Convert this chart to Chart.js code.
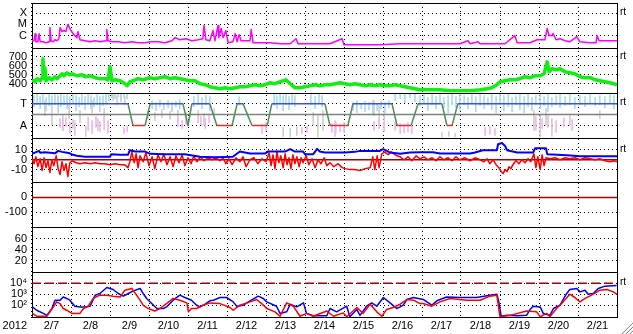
<!DOCTYPE html>
<html>
<head>
<meta charset="utf-8">
<title>Space weather 2012</title>
<style>
  html, body { margin: 0; padding: 0; background: #fff; }
  #wrap { position: relative; width: 633px; height: 334px; }
</style>
<script src="https://cdn.jsdelivr.net/npm/chart.js@4/dist/chart.umd.min.js"></script>
</head>
<body>
<div id="wrap"><canvas id="chart" width="633" height="334"></canvas></div>
<script>
const FONT = "'Liberation Sans', Arial, sans-serif";

// x axis: days since 2/7 00:00
const dayTicks = [0, 1, 2, 3, 4, 5, 6, 7, 8, 9, 10, 11, 12, 13, 14, 15];
const dayLabels = ['2/7', '2/8', '2/9', '2/10', '2/11', '2/12', '2/13', '2/14', '2/15', '2/16', '2/17', '2/18', '2/19', '2/20', '2/21', ''];
const yearLabel = '2012';
const rtLabel = 'rt';

// X-ray flux [day, flux in 1e-6 W/m2] (C = 1, M = 10, X = 100)
const xrayPts = [[0.00,0.35],[0.05,0.35],[0.08,1.5],[0.10,0.28],[0.15,0.28],[0.18,1.5],[0.21,0.28],[0.28,0.28],[0.36,0.23],[0.44,0.28],
  [0.46,5.3],[0.49,0.35],[0.54,0.28],[0.59,0.43],[0.64,0.35],[0.69,0.53],[0.72,5.3],[0.77,2.3],[0.82,2.85],[0.87,2.3],
  [0.92,10],[0.97,4.3],[1.05,1.5],[1.15,0.66],[1.18,2.3],[1.23,0.43],[1.36,0.35],[1.49,0.28],[1.62,0.35],[1.74,0.28],
  [1.90,0.35],[1.92,3.5],[1.95,0.35],[2.05,0.28],[2.21,0.28],[2.38,0.23],[2.56,0.28],[2.72,0.23],[2.90,0.23],[3.03,0.28],
  [3.23,0.28],[3.41,0.23],[3.59,0.35],[3.67,0.66],[3.79,0.43],[3.95,0.53],[4.10,0.35],[4.26,0.43],[4.38,0.53],[4.41,8.1],
  [4.46,0.43],[4.56,0.35],[4.64,2.85],[4.69,0.35],[4.77,8.1],[4.79,0.66],[4.85,4.3],[4.90,0.66],[4.97,2.85],[5.03,0.23],
  [5.15,0.28],[5.21,1.5],[5.26,0.28],[5.31,1.23],[5.36,0.35],[5.46,0.35],[5.59,0.35],[5.62,3.5],[5.67,0.23],[5.85,0.23],
  [6.10,0.23],[6.36,0.19],[6.62,0.19],[6.77,0.53],[6.82,0.19],[7.13,0.19],[7.38,0.19],[7.64,0.19],[7.95,0.53],[8.00,0.15],
  [8.41,0.15],[8.92,0.15],[9.44,0.19],[9.95,0.19],[10.46,0.19],[10.97,0.19],[11.18,0.35],[11.23,0.19],[11.44,0.28],[11.49,0.19],
  [11.74,0.19],[12.13,0.19],[12.38,1.0],[12.44,0.23],[12.77,0.23],[12.95,0.43],[13.15,0.43],[13.21,4.3],[13.26,1.0],[13.33,1.0],
  [13.36,1.5],[13.44,0.43],[13.54,0.53],[13.67,0.35],[13.79,0.28],[13.97,0.81],[14.05,0.28],[14.31,0.23],[14.46,0.23],[14.49,1.0],
  [14.54,0.35],[14.69,0.35],[14.82,0.35],[15.00,0.35]];

// solar wind speed [day, km/s]
const windPts = [[0.00,444],[0.08,422],[0.13,456],[0.21,433],[0.26,467],[0.28,678],[0.31,456],[0.33,578],[0.36,433],[0.44,467],
  [0.51,444],[0.59,478],[0.64,456],[0.72,489],[0.77,511],[0.82,489],[0.90,522],[0.97,500],[1.03,511],[1.15,489],
  [1.28,500],[1.36,478],[1.49,489],[1.62,467],[1.74,456],[1.87,456],[1.95,444],[2.00,589],[2.05,433],[2.13,444],
  [2.26,433],[2.38,400],[2.44,378],[2.51,422],[2.59,433],[2.72,456],[2.85,444],[3.03,467],[3.15,456],[3.28,467],
  [3.41,478],[3.54,456],[3.67,467],[3.79,456],[3.92,444],[4.05,433],[4.18,433],[4.31,400],[4.44,389],[4.56,367],
  [4.69,356],[4.82,344],[4.95,356],[5.08,344],[5.21,356],[5.33,367],[5.46,367],[5.59,378],[5.72,389],[5.85,378],
  [5.97,389],[6.10,411],[6.23,400],[6.36,422],[6.51,444],[6.62,400],[6.74,356],[6.87,356],[7.00,367],[7.13,378],
  [7.26,389],[7.38,378],[7.51,389],[7.64,389],[7.77,400],[7.90,411],[8.03,400],[8.15,389],[8.28,400],[8.41,389],
  [8.54,378],[8.67,389],[8.79,378],[8.92,389],[9.05,378],[9.18,378],[9.31,389],[9.44,378],[9.56,367],[9.69,356],
  [9.82,344],[9.95,333],[10.21,333],[10.46,333],[10.72,322],[10.97,322],[11.23,322],[11.49,333],[11.67,344],[11.79,356],
  [11.92,389],[12.00,422],[12.13,433],[12.26,444],[12.38,444],[12.51,456],[12.64,478],[12.77,467],[12.90,489],[13.03,489],
  [13.13,511],[13.21,644],[13.26,533],[13.33,567],[13.44,556],[13.54,567],[13.67,533],[13.79,522],[13.92,511],[14.05,478],
  [14.18,467],[14.31,467],[14.44,444],[14.56,433],[14.69,422],[14.82,411],[14.92,400],[15.00,389]];

// status level [day, level]  (2 = T, 0 = A)
const statusPts = [[0.00,2],[2.46,2],[2.59,0],[2.90,0],[3.03,2],[3.87,2],[4.00,0],[4.10,2],[4.56,2],[4.74,0],
  [5.13,0],[5.26,2],[5.41,2],[5.64,0],[6.03,0],[6.15,2],[7.51,2],[7.64,0],[8.10,0],[8.23,2],
  [9.23,2],[9.36,0],[9.72,0],[9.90,2],[10.51,2],[10.64,0],[10.77,0],[10.92,2],[15.00,2]];
const statusMid = 1;

// background streaks [day, low, high] in level units
const blueStreaks = [[0.05,1.73,2.73],[0.13,1.91,2.91],[0.21,1.55,2.64],[0.28,2.00,2.82],[0.36,1.36,2.55],[0.44,1.82,2.91],
  [0.51,1.64,2.73],[0.59,1.91,2.82],[0.67,1.18,2.64],[0.74,1.73,2.91],[0.82,1.91,2.73],[0.90,1.55,2.82],[0.97,1.82,2.64],
  [1.05,2.00,2.91],[1.13,1.36,2.73],[1.21,1.73,2.55],[1.28,1.91,2.82],[1.36,1.45,2.64],[1.44,2.00,2.91],[1.51,1.55,2.73],
  [1.59,1.73,2.55],[1.67,1.91,2.82],[1.74,1.27,2.64],[1.82,1.82,2.73],[1.90,2.00,2.91],[1.97,2.27,2.82],[2.05,2.55,3.00],
  [2.13,2.45,2.91],[2.21,2.64,3.00],[2.28,2.36,2.91],[2.36,2.55,3.00],[2.44,2.45,2.91],[3.08,1.55,2.27],[3.18,1.36,2.09],
  [3.28,1.73,2.36],[3.38,1.45,2.00],[3.49,1.64,2.27],[3.59,1.27,2.09],[3.69,1.73,2.18],[3.79,1.55,2.36],[4.15,1.73,2.64],
  [4.26,1.91,2.82],[4.36,1.55,2.55],[4.46,1.91,2.73],[4.56,1.36,2.64],[5.31,1.91,2.64],[6.21,1.82,2.82],[6.28,1.55,2.73],
  [6.36,2.00,2.91],[6.44,1.36,2.73],[6.51,1.91,2.82],[6.59,1.45,2.64],[6.67,2.00,2.91],[6.74,1.73,2.73],[7.15,1.91,2.82],
  [7.26,1.55,2.64],[7.36,2.00,2.91],[7.44,1.73,2.73],[8.23,1.36,2.09],[8.33,1.18,2.27],[8.44,1.55,2.00],[8.54,1.27,2.18],
  [8.64,1.45,2.09],[8.74,1.09,2.27],[8.85,1.36,2.00],[8.95,1.55,2.18],[9.05,1.18,2.09],[9.15,1.64,2.27],[9.31,2.27,2.91],
  [9.44,2.45,3.00],[9.56,2.09,2.82],[9.69,2.55,3.00],[9.82,2.18,2.91],[9.95,1.82,2.73],[10.05,2.00,2.82],[10.15,1.36,2.55],
  [10.26,1.91,2.91],[10.36,1.55,2.64],[10.46,2.00,2.82],[10.56,1.64,2.55],[10.67,1.18,2.73],[10.77,1.91,2.91],[10.87,1.64,2.64],
  [10.97,1.36,2.82],[11.08,1.91,2.73],[11.18,1.55,2.55],[11.28,2.00,2.82],[11.38,1.27,2.64],[11.49,1.82,2.91],[11.59,1.55,2.73],
  [11.69,1.91,2.55],[11.79,1.45,2.82],[11.90,1.18,2.64],[12.00,1.91,2.91],[12.10,1.36,2.73],[12.21,1.73,2.82],[12.31,1.27,2.55],
  [12.41,1.91,2.73],[12.51,1.45,2.91],[12.62,1.18,2.64],[12.72,1.73,2.82],[12.82,1.36,2.55],[12.92,1.91,2.73],[13.03,1.55,2.91],
  [13.13,1.82,2.64],[13.23,1.27,2.82],[13.33,1.73,2.55],[13.44,1.91,2.73],[13.54,1.64,2.91],[13.67,1.82,2.64],[13.79,1.91,2.82],
  [13.92,1.55,2.55],[14.05,1.91,2.73],[14.18,1.73,2.64],[14.31,2.00,2.82],[14.44,1.82,2.55],[14.56,1.91,2.73],[14.69,1.64,2.64],
  [14.82,2.00,2.82],[14.92,1.55,2.73]];
const grayStreaks = [[0.33,0.91,2.27],[0.51,0.00,1.55],[0.67,2.09,2.73],[0.79,-0.45,0.91],[0.95,0.64,1.91],[1.10,-0.91,0.45],
  [1.23,0.27,1.36],[1.38,-1.00,0.00],[1.54,1.18,2.27],[1.69,-0.45,0.64],[1.85,0.45,1.55],[2.08,2.27,2.91],[2.18,1.91,2.73],
  [2.28,2.18,2.82],[2.38,1.91,2.64],[2.97,0.64,1.36],[3.15,0.45,1.18],[3.33,0.73,1.45],[3.54,0.55,1.27],[3.74,0.45,1.36],
  [3.95,0.64,1.18],[4.26,0.27,1.36],[4.41,0.00,1.09],[4.67,0.64,1.55],[6.44,-1.00,-0.18],[6.62,-1.09,-0.27],[6.79,-0.91,-0.09],
  [7.21,0.00,1.18],[7.33,-1.09,0.91],[7.46,-0.45,1.36],[7.77,-1.00,0.45],[8.77,0.91,2.27],[8.90,0.00,1.82],[9.03,-0.18,1.36],
  [10.51,-1.09,-0.64],[10.69,-1.00,-0.55],[10.85,-1.09,-0.73],[12.87,-0.45,1.36],[13.03,-1.09,0.91],[13.18,0.00,1.55],
  [13.33,-1.00,0.64],[13.79,0.00,0.91],[14.56,0.64,1.36]];
const pinkStreaks = [[0.72,-0.18,0.64],[0.79,-0.45,0.45],[0.87,-0.09,0.73],[0.97,-0.73,0.27],[1.05,-0.27,0.55],[1.44,-0.45,0.73],
  [1.54,-0.73,0.45],[1.64,-0.18,0.82],[1.74,-0.55,0.36],[1.85,-0.36,0.64],[1.95,-0.73,0.45],[2.36,-0.73,-0.18],[2.44,-0.55,0.00],
  [3.74,-0.09,0.64],[3.85,-0.27,0.45],[3.95,0.00,0.73],[4.33,0.09,0.82],[4.44,-0.27,0.64],[4.54,0.27,0.91],[5.90,-0.73,0.09],
  [6.00,-0.45,0.27],[6.92,-0.73,-0.18],[7.05,-0.64,-0.09],[7.69,-0.64,0.18],[7.79,-0.73,0.36],[7.90,-0.55,0.09],[8.00,-0.64,0.27],
  [8.77,-0.45,0.36],[8.90,-0.27,0.55],[9.03,-0.55,0.27],[9.31,-0.45,0.27],[9.44,-0.73,0.18],[9.54,-0.64,0.09],[9.64,-0.55,0.27],
  [9.74,-0.73,0.00],[11.62,-0.91,-0.18],[11.74,-0.82,-0.09],[11.87,-0.91,-0.27],[12.92,-0.45,0.82],[13.08,-0.27,0.64],
  [13.23,-0.18,0.91],[13.44,-0.64,0.45],[13.64,-0.09,0.73],[13.85,-0.45,0.55]];

// magnetic field [day, nT]
const btPts = [[0.00,6],[0.18,9],[0.21,7],[0.33,7.5],[0.46,7],[0.59,6.5],[0.67,9],[0.77,8],[0.90,7],[0.97,6.5],
  [1.05,5],[1.15,4],[1.36,3],[1.62,3],[1.87,3],[2.00,3],[2.03,5.7],[2.26,5],[2.46,5],[2.51,9.7],
  [2.64,8.3],[2.90,8.3],[3.03,6],[3.41,5.7],[3.92,5.5],[4.31,3],[4.69,2.5],[5.15,3],[5.33,8.3],[5.59,6.3],
  [5.97,6.3],[6.05,8.3],[6.49,8.3],[6.62,10.7],[6.74,8.3],[6.95,8.3],[7.00,5.7],[7.21,5.7],[7.26,8.3],[7.31,11],
  [7.38,8.3],[7.51,7.3],[8.03,7.3],[8.28,8],[8.41,9],[8.92,9],[9.00,10.7],[9.10,9],[9.18,7.3],[9.44,6],
  [9.69,7.3],[9.95,7.5],[10.28,7.5],[10.46,6.3],[11.23,6.3],[11.36,7.3],[11.56,9.7],[11.92,9.7],[11.95,15.7],[12.05,17],
  [12.13,14],[12.18,9.7],[12.44,7.3],[12.85,7.3],[12.90,11.7],[13.18,11.7],[13.21,5.7],[13.72,4.5],[14.05,3.5],[14.56,3.5],[15.00,3.5]];
const bzPts = [[0.00,1],[0.05,-4],[0.10,3],[0.15,-7],[0.21,1],[0.26,-11],[0.31,2],[0.36,-8],[0.41,-1],[0.46,-13],
  [0.51,0],[0.56,-6],[0.62,4],[0.67,-9],[0.72,-15],[0.77,-2],[0.82,-11],[0.87,-4],[0.92,-17],[0.97,-3],
  [1.03,-1],[1.13,-3],[1.23,-4],[1.36,-3],[1.49,-4],[1.62,-3],[1.74,-4],[1.87,-4],[2.00,-5],[2.13,-4],
  [2.26,-5],[2.38,-5],[2.46,-8],[2.51,-2],[2.56,8],[2.62,-3],[2.67,6],[2.72,-8],[2.77,4],[2.85,-2],
  [2.92,7],[3.00,-6],[3.08,3],[3.15,-9],[3.23,5],[3.31,-2],[3.38,6],[3.46,-5],[3.54,3],[3.62,-7],
  [3.69,4],[3.77,-3],[3.85,5],[3.92,-6],[4.00,2],[4.08,-4],[4.15,4],[4.23,-2],[4.31,3],[4.41,-1],
  [4.51,2],[4.62,0],[4.72,2],[4.82,-1],[4.90,2],[4.97,-4],[5.05,1],[5.13,-5],[5.23,2],[5.33,-2],
  [5.41,3],[5.49,-7],[5.59,0],[5.69,2],[5.79,-4],[5.90,1],[6.00,-2],[6.08,7],[6.13,-6],[6.18,5],
  [6.23,-9],[6.28,8],[6.33,-3],[6.38,4],[6.44,-8],[6.49,6],[6.54,-5],[6.59,2],[6.64,-9],[6.69,5],
  [6.74,-4],[6.79,3],[6.85,-7],[6.90,2],[6.95,-3],[7.03,4],[7.10,-5],[7.18,1],[7.26,-8],[7.33,0],
  [7.41,-4],[7.49,2],[7.56,-6],[7.64,-3],[7.74,-7],[7.85,-4],[7.95,-8],[8.03,-9],[8.15,-10],[8.28,-10],
  [8.41,-11],[8.54,-9],[8.67,-8],[8.74,3],[8.79,-10],[8.85,4],[8.90,-8],[8.97,6],[9.05,8],[9.13,5],
  [9.21,8],[9.28,6],[9.36,4],[9.44,3],[9.54,0],[9.64,3],[9.74,-1],[9.85,4],[9.95,1],[10.05,3],
  [10.15,0],[10.26,2],[10.36,-1],[10.46,3],[10.56,0],[10.67,2],[10.77,-1],[10.87,3],[10.97,0],[11.10,2],
  [11.23,-1],[11.36,2],[11.49,0],[11.59,-2],[11.67,1],[11.74,-4],[11.82,0],[11.90,-5],[11.97,-8],[12.03,-12],
  [12.08,-14],[12.13,-10],[12.18,-12],[12.23,-7],[12.28,-9],[12.33,-5],[12.41,-1],[12.49,-4],[12.56,0],[12.64,-3],
  [12.72,1],[12.79,-2],[12.87,6],[12.92,-8],[12.97,3],[13.03,-10],[13.08,5],[13.13,-6],[13.18,2],[13.28,1],
  [13.41,2],[13.54,0],[13.67,2],[13.79,1],[13.92,2],[14.05,0],[14.18,2],[14.31,1],[14.44,0],[14.56,1],
  [14.69,-1],[14.82,-2],[14.92,-1],[15.00,-2]];
const imfZero = 0;
const dstZero = 0;

// particle flux [day, flux]
const fluxBluePts = [[0.01,70],[0.12,35],[0.29,18],[0.38,12],[0.51,50],[0.59,285],[0.72,285],[0.80,560],[0.89,410],[0.97,285],
  [1.10,81],[1.23,70],[1.36,70],[1.49,81],[1.62,811],[1.74,1160],[1.92,4050],[2.08,2650],[2.21,1160],[2.34,660],
  [2.47,1160],[2.60,2000],[2.77,3300],[2.85,1160],[2.94,410],[3.07,140],[3.20,50],[3.37,50],[3.45,70],[3.62,285],
  [3.79,811],[3.92,500],[4.09,285],[4.22,100],[4.31,70],[4.44,123],[4.56,250],[4.65,285],[4.82,500],[4.99,500],
  [5.16,200],[5.25,81],[5.42,100],[5.59,250],[5.80,660],[5.93,410],[6.02,200],[6.27,81],[6.36,18],[6.53,25],
  [6.62,123],[6.79,70],[6.96,162],[7.04,18],[7.21,11],[7.56,11],[7.64,50],[7.81,25],[8.07,81],[8.15,9],
  [8.33,40],[8.41,12],[8.58,81],[8.71,162],[8.84,81],[9.01,500],[9.18,162],[9.35,50],[9.44,70],[9.52,100],
  [9.61,330],[9.78,500],[10.03,330],[10.25,100],[10.38,250],[10.63,560],[10.97,500],[11.40,500],[11.74,811],[11.92,1000],
  [11.96,285],[12.03,10],[12.17,12],[12.43,11],[12.68,12],[12.77,40],[12.85,81],[13.03,70],[13.11,18],[13.28,12],
  [13.37,50],[13.54,100],[13.71,1160],[13.79,2650],[13.97,3300],[14.05,1620],[14.18,2310],[14.26,1000],[14.39,1160],[14.52,3300],
  [14.69,5340],[14.99,6200]];
const fluxRedPts = [[0.01,18],[0.12,10],[0.38,10],[0.46,25],[0.55,70],[0.63,200],[0.72,140],[0.80,50],[0.89,35],[1.02,18],
  [1.23,18],[1.32,50],[1.44,81],[1.57,410],[1.74,811],[1.92,811],[2.08,660],[2.26,560],[2.38,2310],[2.56,3300],
  [2.68,811],[2.77,285],[2.85,100],[2.98,50],[3.15,30],[3.28,50],[3.45,140],[3.62,410],[3.79,285],[3.97,162],
  [4.01,25],[4.09,50],[4.22,50],[4.39,100],[4.56,162],[4.82,140],[5.08,62],[5.16,35],[5.33,100],[5.59,200],
  [5.76,330],[5.89,140],[6.02,50],[6.23,25],[6.36,10],[6.53,162],[6.70,81],[6.87,10],[7.04,18],[7.21,10],
  [7.56,30],[7.73,10],[7.98,20],[8.07,9],[8.33,62],[8.49,18],[8.67,123],[8.84,25],[8.97,10],[9.09,40],
  [9.26,62],[9.44,123],[9.61,330],[9.78,285],[9.95,140],[10.03,140],[10.25,81],[10.46,200],[10.72,410],[11.15,285],
  [11.49,285],[11.74,660],[11.92,811],[11.96,70],[12.00,9],[12.26,12],[12.68,30],[12.94,25],[13.03,9],[13.20,18],
  [13.28,9],[13.45,50],[13.62,200],[13.79,1000],[13.92,500],[14.05,200],[14.18,410],[14.35,811],[14.56,2310],[14.74,2650],
  [14.91,1620],[14.99,1000]];
const fluxAlert = 10000;
const spanDays = [0, 15];

// y axis ticks per panel
const xrayTicks = [1, 10, 100], xrayLabels = ['C', 'M', 'X'];
const windTicks = [400, 500, 600, 700];
const statusTicks = [0, 2], statusLabels = ['A', 'T'];
const imfTicks = [-10, 0, 10];
const dstTicks = [-100, 0];
const p6Ticks = [20, 40, 60];
const fluxTicks = [100, 1000, 10000], fluxLabels = ['10\u00b2', '10\u00b3', '10\u2074'];

function pts(list) { return list.map(p => ({ x: p[0], y: p[1] })); }
function bars(list) { return list.map(p => ({ x: p[0], y: [p[1], p[2]] })); }
function flat(v) { return spanDays.map(d => ({ x: d, y: v })); }

function yPanel(type, min, max, vals, labels) {
  return {
    type: type, min: min, max: max,
    position: 'left', stack: 'panels', stackWeight: 1, offset: false, beginAtZero: false,
    grid: { color: '#000', lineWidth: 1, drawTicks: false, offset: false },
    border: { display: true, color: '#000', width: 1, dash: [1, 3] },
    ticks: {
      color: '#000', font: { family: FONT, size: 11 }, padding: 5, autoSkip: false, maxRotation: 0,
      callback: function (v) {
        const i = vals.indexOf(v);
        if (i < 0) return '';
        return labels ? labels[i] : String(v);
      }
    },
    afterBuildTicks: function (s) { s.ticks = vals.map(v => ({ value: v })); },
    afterFit: function (s) { s.width = 32; s.paddingTop = 0; s.paddingBottom = 0; }
  };
}

function line(data, axis, color, width) {
  return {
    type: 'line', data: data, yAxisID: axis, xAxisID: 'x',
    borderColor: color, backgroundColor: color, borderWidth: width,
    pointRadius: 0, tension: 0, fill: false, borderJoinStyle: 'round'
  };
}

function streaks(data, color) {
  return {
    type: 'bar', data: bars(data), yAxisID: 'stat', xAxisID: 'x',
    backgroundColor: color, borderColor: color, borderWidth: 0, barThickness: 1, grouped: false
  };
}

const statusLine = line(pts(statusPts), 'stat', '#4050d8', 1.5);
statusLine.segment = {
  borderColor: function (c) {
    const a = c.p0.parsed.y, b = c.p1.parsed.y;
    if (a === 2 && b === 2) return '#4050d8';
    if (a === 0 && b === 0) return '#e03030';
    return '#4f8f4f';
  }
};

const alertLine = line(flat(fluxAlert), 'flux', '#aa0000', 1.5);
alertLine.borderDash = [9, 4];

const rtPanels = [['xray', 100], ['wind', 700], ['stat', 2], ['imf', 10], ['flux', 10000]];
const panelIds = ['xray', 'wind', 'stat', 'imf', 'dst', 'p6', 'flux'];

const framePlugin = {
  id: 'frame',
  afterDraw: function (chart) {
    const ctx = chart.ctx, a = chart.chartArea, sc = chart.scales;
    ctx.save();
    ctx.setLineDash([]);
    ctx.strokeStyle = '#000';
    ctx.lineWidth = 1;
    ctx.beginPath();
    panelIds.forEach(function (id) {
      const y = Math.round(sc[id].top) + 0.5;
      ctx.moveTo(a.left, y);
      ctx.lineTo(a.right + 1, y);
    });
    const xr = Math.round(a.right) + 0.5;
    ctx.moveTo(xr, a.top);
    ctx.lineTo(xr, a.bottom + 1);
    ctx.stroke();

    ctx.fillStyle = '#000';
    ctx.font = '11px ' + FONT;
    ctx.textAlign = 'right';
    ctx.textBaseline = 'middle';
    ctx.fillText(yearLabel, a.left - 5, a.bottom + 9);

    ctx.font = '10px ' + FONT;
    ctx.textAlign = 'left';
    rtPanels.forEach(function (r) {
      ctx.fillText(rtLabel, a.right + 3, sc[r[0]].getPixelForValue(r[1]) - 1);
    });

    // window resize grip
    const W = chart.width, H = chart.height;
    [3, 7, 11].forEach(function (n) {
      ctx.strokeStyle = '#909090';
      ctx.beginPath(); ctx.moveTo(W - n, H); ctx.lineTo(W, H - n); ctx.stroke();
      ctx.strokeStyle = '#e8e8e8';
      ctx.beginPath(); ctx.moveTo(W - n - 1, H); ctx.lineTo(W, H - n - 1); ctx.stroke();
    });
    ctx.restore();
  }
};

new Chart(document.getElementById('chart'), {
  type: 'line',
  data: {
    datasets: [
      line(pts(xrayPts), 'xray', '#ff00ff', 1.5),
      line(pts(windPts), 'wind', '#11ee11', 3.5),
      statusLine,
      line(flat(statusMid), 'stat', '#808080', 1.5),
      streaks(pinkStreaks, '#f4b4f0'),
      streaks(grayStreaks, '#cfcfcf'),
      streaks(blueStreaks, '#a8dcf2'),
      line(pts(btPts), 'imf', '#0000ff', 2),
      line(pts(bzPts), 'imf', '#ff0000', 1.5),
      line(flat(imfZero), 'imf', '#aa0000', 1.5),
      line(flat(dstZero), 'dst', '#aa0000', 1.5),
      line(pts(fluxRedPts), 'flux', '#ff0000', 1.5),
      line(pts(fluxBluePts), 'flux', '#0000ff', 1.5),
      alertLine
    ]
  },
  options: {
    responsive: false,
    animation: false,
    devicePixelRatio: 1,
    layout: { padding: { left: 0, right: 16, top: 3, bottom: 0 } },
    plugins: { legend: { display: false }, title: { display: false }, tooltip: { enabled: false } },
    scales: {
      x: {
        type: 'linear', min: 0, max: 15, position: 'bottom', offset: false,
        grid: { color: '#000', lineWidth: 1, drawTicks: false, offset: false },
        border: { display: true, color: '#000', width: 1, dash: [1, 3] },
        ticks: {
          color: '#000', font: { family: FONT, size: 11 }, padding: 2, labelOffset: 19.5,
          autoSkip: false, maxRotation: 0,
          callback: function (v) { return dayLabels[v] || ''; }
        },
        afterBuildTicks: function (s) { s.ticks = dayTicks.map(v => ({ value: v })); },
        afterFit: function (s) { s.height = 17; s.paddingLeft = 0; s.paddingRight = 0; }
      },
      // bottom panel first, top panel last
      flux: yPanel('logarithmic', 8.5, 100000, fluxTicks, fluxLabels),
      p6: yPanel('linear', 0, 80, p6Ticks),
      dst: yPanel('linear', -200, 100, dstTicks),
      imf: yPanel('linear', -23, 22.5, imfTicks),
      stat: yPanel('linear', -1.1, 3, statusTicks, statusLabels),
      wind: yPanel('linear', 300, 800, windTicks),
      xray: yPanel('logarithmic', 0.081, 810, xrayTicks, xrayLabels)
    }
  },
  plugins: [framePlugin]
});
</script>
</body>
</html>
